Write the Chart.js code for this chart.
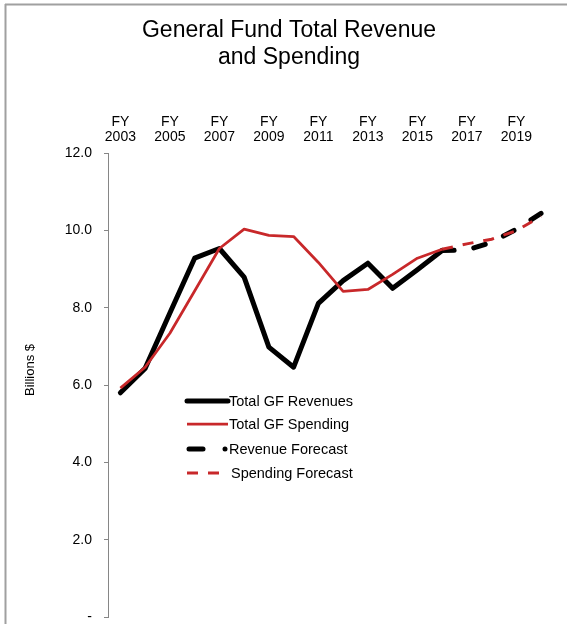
<!DOCTYPE html>
<html>
<head>
<meta charset="utf-8">
<script src="https://cdn.jsdelivr.net/npm/chart.js@4"></script>
<style>
  html, body { margin: 0; padding: 0; background: #fff; }
  #wrap { width: 567px; height: 624px; position: relative; }
</style>
</head>
<body>
<div id="wrap"><canvas id="c" width="567" height="624"></canvas></div>
<script>
const fiscalYears = ['FY2003','FY2004','FY2005','FY2006','FY2007','FY2008','FY2009','FY2010','FY2011','FY2012','FY2013','FY2014','FY2015','FY2016','FY2017','FY2018','FY2019','FY2020'];
const revenueActual   = [5.80, 6.43, 7.86, 9.28, 9.53, 8.79, 6.98, 6.46, 8.11, 8.70, 9.15, 8.50, 8.98, 9.48, null, null, null, null];
const spendingActual  = [5.92, 6.46, 7.34, 8.43, 9.53, 10.03, 9.87, 9.84, 9.17, 8.42, 8.47, 8.86, 9.28, 9.51, null, null, null, null];
const revenueForecast = [null, null, null, null, null, null, null, null, null, null, null, null, null, 9.48, 9.49, 9.69, 10.03, 10.44];
const spendingForecast= [null, null, null, null, null, null, null, null, null, null, null, null, null, 9.51, 9.65, 9.77, 9.99, 10.36];
const seriesNames = ['Total GF Revenues', 'Total GF Spending', 'Revenue Forecast', 'Spending Forecast'];
const titleLines = ['General Fund Total Revenue', 'and Spending'];
const yAxisTitle = 'Billions $';

const FONT = "'Liberation Sans', Arial, sans-serif";
const BLACK = '#000000';
const RED = '#c8282a';

const decorPlugin = {
  id: 'decor',
  beforeDraw(chart) {
    const ctx = chart.ctx;
    ctx.save();
    ctx.strokeStyle = '#a0a0a0';
    ctx.lineWidth = 2;
    ctx.beginPath();
    ctx.moveTo(5, 4.5); ctx.lineTo(567, 4.5);
    ctx.moveTo(5.5, 4); ctx.lineTo(5.5, 624);
    ctx.stroke();
    ctx.restore();
  },
  afterDraw(chart) {
    const ctx = chart.ctx;
    ctx.save();
    ctx.fillStyle = '#000';
    ctx.font = '23px ' + FONT;
    ctx.textAlign = 'center';
    ctx.textBaseline = 'middle';
    ctx.fillText(titleLines[0], 289, 31);
    ctx.fillText(titleLines[1], 289, 58);
    ctx.save();
    ctx.translate(30, 370);
    ctx.rotate(-Math.PI / 2);
    ctx.font = '13px ' + FONT;
    ctx.fillText(yAxisTitle, 0, 0);
    ctx.restore();
    const ds = chart.data.datasets;
    const byLabel = {};
    ds.forEach(d => byLabel[d.label] = d);
    ctx.textAlign = 'left';
    ctx.font = '14.5px ' + FONT;
    const rows = [
      {name: seriesNames[0], y: 401, tx: 229},
      {name: seriesNames[1], y: 424, tx: 229},
      {name: seriesNames[2], y: 449, tx: 229},
      {name: seriesNames[3], y: 473, tx: 231}
    ];
    rows.forEach((r, i) => {
      const d = byLabel[r.name];
      ctx.strokeStyle = d.borderColor;
      ctx.lineWidth = d.borderWidth;
      ctx.lineCap = d.borderCapStyle || 'butt';
      ctx.setLineDash(d.borderDash || []);
      ctx.beginPath();
      if (i === 2) {
        ctx.setLineDash([]);
        ctx.lineCap = 'round';
        ctx.moveTo(189, r.y); ctx.lineTo(203, r.y);
        ctx.stroke();
        ctx.beginPath();
        ctx.fillStyle = d.borderColor;
        ctx.arc(225, r.y, 2.5, 0, Math.PI * 2);
        ctx.fill();
      } else {
        ctx.moveTo(187, r.y); ctx.lineTo(228, r.y);
        ctx.stroke();
      }
      ctx.setLineDash([]);
      ctx.fillStyle = '#000';
      ctx.textBaseline = 'middle';
      ctx.fillText(r.name, r.tx, r.y + 1);
    });
    ctx.restore();
  }
};

new Chart(document.getElementById('c'), {
  type: 'line',
  data: {
    labels: fiscalYears,
    datasets: [
      { label: seriesNames[0], data: revenueActual, borderColor: BLACK, backgroundColor: BLACK, borderWidth: 5, borderJoinStyle: 'round', borderCapStyle: 'round', order: 3 },
      { label: seriesNames[1], data: spendingActual, borderColor: RED, backgroundColor: RED, borderWidth: 2.75, borderJoinStyle: 'round', order: 1 },
      { label: seriesNames[2], data: revenueForecast, borderColor: BLACK, backgroundColor: BLACK, borderWidth: 5, borderDash: [12, 20], borderCapStyle: 'round', borderJoinStyle: 'round', order: 2 },
      { label: seriesNames[3], data: spendingForecast, borderColor: RED, backgroundColor: RED, borderWidth: 3, borderDash: [11, 10], borderCapStyle: 'butt', order: 0 }
    ]
  },
  options: {
    responsive: false,
    animation: false,
    layout: { padding: { top: 80, left: 0, right: 13.5, bottom: 7 } },
    elements: { point: { radius: 0, hoverRadius: 0 }, line: { tension: 0 } },
    plugins: { legend: { display: false }, tooltip: { enabled: false }, title: { display: false } },
    scales: {
      x: {
        type: 'category',
        position: 'top',
        offset: true,
        grid: { display: false, drawTicks: false },
        border: { display: false },
        ticks: {
          autoSkip: false,
          maxRotation: 0,
          padding: 8,
          color: '#000',
          font: { family: FONT, size: 14, lineHeight: 1.1 },
          callback: function(v, i) {
            const lab = fiscalYears[i];
            const yr = parseInt(lab.slice(2), 10);
            return (yr % 2 === 1) ? ['FY', lab.slice(2)] : '';
          }
        },
        afterFit(scale) { scale.height = 73; scale.paddingLeft = 0; scale.paddingRight = 0; }
      },
      y: {
        min: 0, max: 12,
        grid: { drawOnChartArea: false, drawTicks: true, tickLength: 4, color: '#868686' },
        border: { display: true, color: '#868686', width: 1 },
        ticks: {
          stepSize: 2,
          padding: 12,
          color: '#000',
          font: { family: FONT, size: 14 },
          callback: v => v === 0 ? '-' : v.toFixed(1)
        },
        afterFit(scale) { scale.width = 108; scale.paddingTop = 0; scale.paddingBottom = 0; }
      }
    }
  },
  plugins: [decorPlugin]
});
</script>
</body>
</html>
